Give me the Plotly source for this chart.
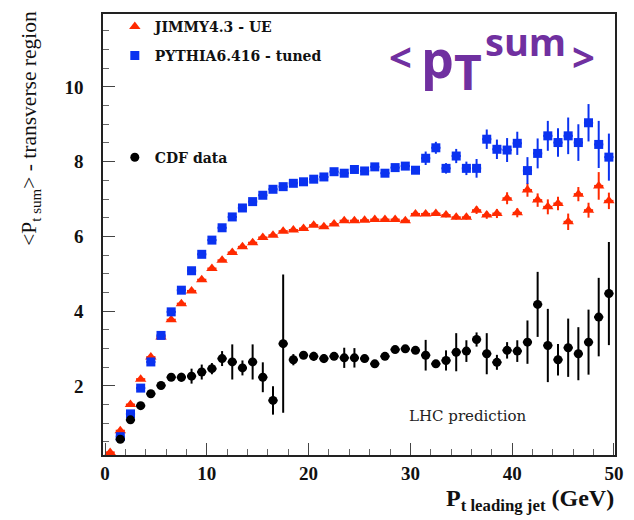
import plotly.graph_objects as go

# Leading-jet pT bins (GeV), bin centres
pt_bins = [i + 0.5 for i in range(50)]

# JIMMY4.3 - UE
jimmy = [0.22, 0.80, 1.50, 2.18, 2.77, 3.31, 3.77, 4.20, 4.54, 4.84,
         5.14, 5.36, 5.57, 5.72, 5.83, 5.97, 6.03, 6.14, 6.17, 6.21,
         6.30, 6.26, 6.33, 6.42, 6.42, 6.43, 6.45, 6.45, 6.45, 6.42,
         6.60, 6.60, 6.61, 6.57, 6.51, 6.51, 6.70, 6.57, 6.61, 7.02,
         6.63, 7.24, 6.97, 6.79, 6.88, 6.39, 7.13, 6.70, 7.35, 6.95]
jimmy_err = [0.03] * 30 + [0.05, 0.05, 0.05, 0.06, 0.06, 0.06, 0.10, 0.10, 0.12, 0.16,
                           0.12, 0.18, 0.18, 0.20, 0.18, 0.22, 0.19, 0.20, 0.37, 0.22]

# PYTHIA6.416 - tuned
pythia = [None, 0.64, 1.25, 1.94, 2.64, 3.35, 3.98, 4.56, 5.08, 5.52,
          5.90, 6.23, 6.52, 6.76, 6.93, 7.10, 7.26, 7.33, 7.42, 7.46,
          7.53, 7.59, 7.73, 7.69, 7.79, 7.75, 7.86, 7.69, 7.84, 7.88,
          7.77, 8.09, 8.37, 7.82, 8.15, 7.82, 7.82, 8.60, 8.33, 8.31,
          8.49, 7.76, 8.22, 8.69, 8.51, 8.69, 8.51, 9.04, 8.46, 8.12]
pythia_err = [0.04] * 26 + [0.07, 0.07, 0.08, 0.10, 0.10,
                            0.18, 0.16, 0.14, 0.19, 0.18, 0.25, 0.26, 0.26, 0.32,
                            0.31, 0.36, 0.40, 0.40, 0.38, 0.49, 0.49, 0.50, 0.63, 0.63]

# CDF data
cdf = [None, 0.57, 1.09, 1.47, 1.79, 2.01, 2.23, 2.23, 2.26, 2.37,
       2.46, 2.73, 2.64, 2.48, 2.64, 2.23, 1.61, 3.13, 2.70, 2.82,
       2.79, 2.73, 2.79, 2.75, 2.75, 2.73, 2.59, 2.79, 2.97, 2.99,
       2.95, 2.82, 2.59, 2.68, 2.90, 2.93, 3.24, 2.86, 2.63, 2.95,
       2.93, 3.17, 4.18, 3.08, 2.70, 3.02, 2.86, 3.17, 3.84, 4.47]
cdf_err = [0.0, 0.05, 0.05, 0.05, 0.05, 0.05, 0.06, 0.12, 0.20, 0.20,
           0.15, 0.20, 0.47, 0.20, 0.47, 0.40, 0.38, 1.85, 0.15, 0.08,
           0.12, 0.12, 0.10, 0.27, 0.26, 0.10, 0.10, 0.10, 0.08, 0.08,
           0.08, 0.41, 0.10, 0.27, 0.51, 0.29, 0.19, 0.55, 0.20, 0.22,
           0.29, 0.58, 0.87, 0.98, 0.42, 0.78, 0.71, 0.87, 1.05, 1.38]

RED = "#ff2a00"
BLUE = "#0a32f0"
BLACK = "#000000"
SERIF = "Liberation Serif, serif"
WIDE_SERIF = "DejaVu Serif, serif"

# plot frame in pixels (634 x 520 canvas)
L, R, T, B = 103, 11, 13, 65
W, H = 634, 520
PW, PH = W - L - R, H - T - B


def px(x):
    return (x - L) / PW


def py(y):
    return (H - B - y) / PH


fig = go.Figure()


def add_series(name, y, err, color, symbol, size, legend):
    fig.add_trace(go.Scatter(
        x=pt_bins, y=y, name=name, mode="markers",
        marker=dict(symbol=symbol, size=size, color=color, line=dict(width=0)),
        error_y=dict(type="data", array=err, visible=True, color=color,
                     thickness=2, width=0),
        error_x=dict(type="constant", value=0.45, visible=True, color=color,
                     thickness=2, width=0),
        legend=legend,
    ))


add_series("JIMMY4.3 - UE", jimmy, jimmy_err, RED, "triangle-up", 10, "legend")
add_series("PYTHIA6.416 - tuned", pythia, pythia_err, BLUE, "square", 9, "legend2")
add_series("CDF data", cdf, cdf_err, BLACK, "circle", 9, "legend3")

leg_common = dict(bgcolor="rgba(0,0,0,0)", borderwidth=0,
                  font=dict(family=WIDE_SERIF, size=14, color="#111", weight="bold"),
                  xanchor="left", yanchor="middle", itemsizing="trace")

axis_common = dict(
    showline=True, linecolor="#222", linewidth=1.5, mirror=True,
    ticks="inside", ticklen=12, tickwidth=1, tickcolor="#444",
    showgrid=False, zeroline=False,
    tickfont=dict(family=SERIF, size=19, color="#111", weight="bold"),
)

fig.update_layout(
    width=W, height=H,
    margin=dict(l=L, r=R, t=T, b=B),
    paper_bgcolor="white", plot_bgcolor="white",
    showlegend=True,
    legend=dict(x=px(115), y=py(26), **leg_common),
    legend2=dict(x=px(115), y=py(55), **leg_common),
    legend3=dict(x=px(115), y=py(157), **leg_common),
    xaxis=dict(range=[-0.2, 50.1], tickvals=[0, 10, 20, 30, 40, 50],
               minor=dict(dtick=2, ticks="inside", ticklen=6, tickcolor="#666"),
               ticklabelstandoff=0, **axis_common),
    yaxis=dict(range=[0.15, 11.95], tickvals=[2, 4, 6, 8, 10, 12],
               minor=dict(dtick=0.5, ticks="inside", ticklen=6, tickcolor="#666"),
               ticklabelstandoff=14, **axis_common),
)

# axis titles
fig.add_annotation(
    text="<P<sub>t sum</sub>> - transverse region", textangle=-90,
    xref="paper", yref="paper", x=px(30), y=py(128),
    xanchor="center", yanchor="middle", showarrow=False,
    font=dict(family=SERIF, size=21.5, color="#111"))
fig.add_annotation(
    text="P<sub>t leading jet</sub> (GeV)",
    xref="paper", yref="paper", x=px(624), y=py(500),
    xanchor="right", yanchor="middle", showarrow=False,
    font=dict(family=SERIF, size=24, color="#111", weight="bold"))

fig.add_annotation(
    text="LHC prediction", xref="paper", yref="paper", x=px(474), y=py(416),
    xanchor="center", yanchor="middle", showarrow=False,
    font=dict(family=WIDE_SERIF, size=15, color="#222"))

# handwritten <pT sum> label
PURPLE = "#7030a0"
HAND = "Open Sans"
for txt, xc, yc, size in [("<", 405, 56, 40), ("p", 443, 57, 52),
                          ("T", 474, 71, 48), ("sum", 532, 40, 38),
                          (">", 591, 56, 40)]:
    fig.add_annotation(
        text=txt, xref="paper", yref="paper", x=px(xc), y=py(yc),
        xanchor="center", yanchor="middle", showarrow=False,
        font=dict(family=HAND, size=size, color=PURPLE, weight=700))

fig.write_html("out.html")
